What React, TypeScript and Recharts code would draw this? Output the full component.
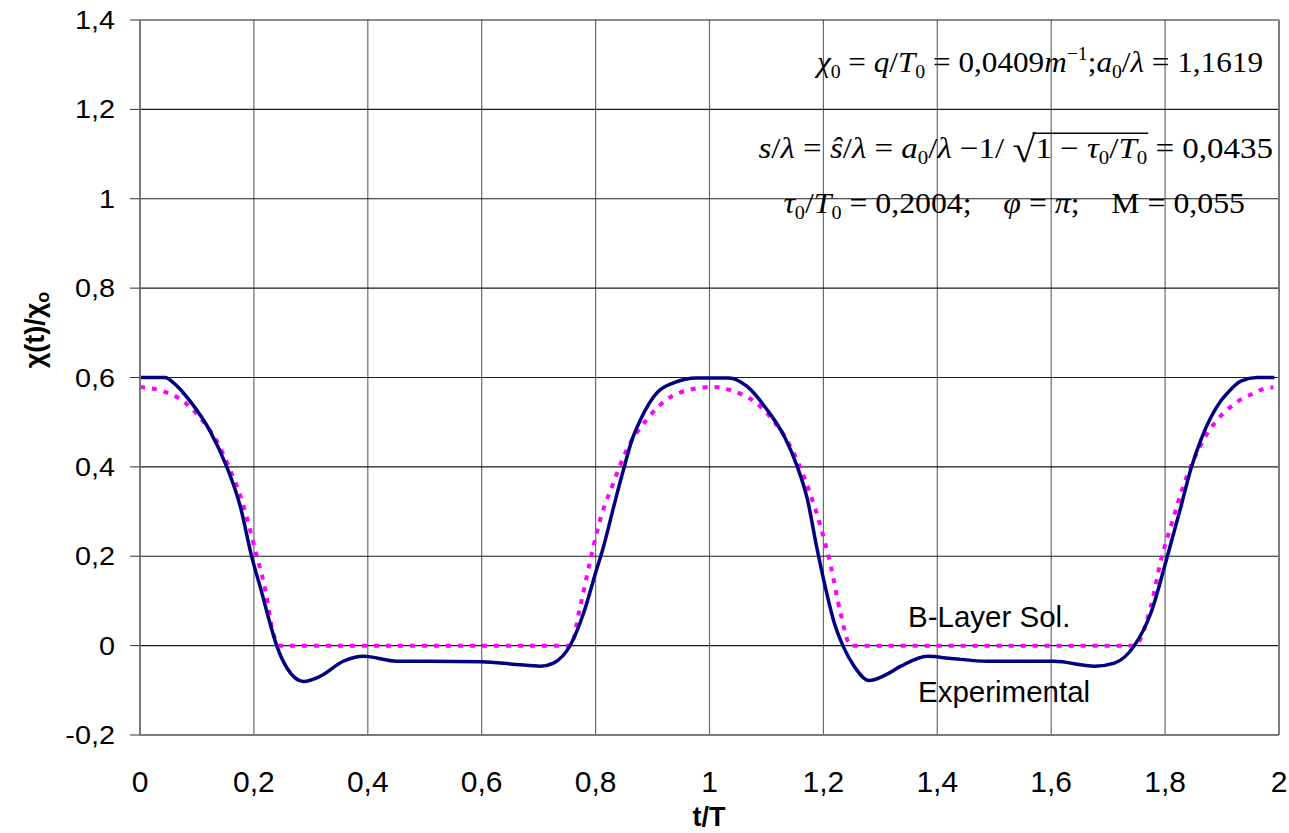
import React, { useLayoutEffect, useRef, useState } from "react";
import { LineChart, Line, XAxis, YAxis, CartesianGrid } from "recharts";

const tExp = [0, 0.044, 0.059, 0.088, 0.123, 0.152, 0.176, 0.196, 0.214, 0.228, 0.24, 0.258, 0.287, 0.316, 0.357, 0.393, 0.451, 0.51, 0.6, 0.66, 0.703, 0.726, 0.756, 0.779, 0.8, 0.814, 0.832, 0.849, 0.864, 0.879, 0.908, 0.937, 0.978, 1.034, 1.066, 1.101, 1.131, 1.154, 1.172, 1.188, 1.203, 1.219, 1.236, 1.254, 1.28, 1.31, 1.336, 1.383, 1.42, 1.488, 1.605, 1.676, 1.711, 1.746, 1.775, 1.804, 1.828, 1.845, 1.863, 1.898, 1.91, 1.933, 1.962, 1.992];
const yExp = [0.6, 0.6, 0.588, 0.547, 0.48, 0.401, 0.312, 0.2, 0.118, 0.051, 0.0, -0.05, -0.08, -0.069, -0.035, -0.024, -0.035, -0.035, -0.036, -0.042, -0.046, -0.039, 0.002, 0.073, 0.163, 0.222, 0.312, 0.394, 0.461, 0.506, 0.566, 0.588, 0.599, 0.599, 0.58, 0.528, 0.469, 0.401, 0.327, 0.222, 0.133, 0.051, -0.005, -0.046, -0.078, -0.065, -0.046, -0.024, -0.028, -0.035, -0.035, -0.046, -0.039, 0.0, 0.073, 0.2, 0.312, 0.394, 0.461, 0.548, 0.566, 0.592, 0.6, 0.6];

const tBL = [0, 0.041, 0.076, 0.108, 0.135, 0.158, 0.182, 0.202, 0.22, 0.234, 0.246, 0.756, 0.773, 0.791, 0.808, 0.829, 0.855, 0.89, 0.925, 0.967, 1.008, 1.043, 1.078, 1.113, 1.142, 1.172, 1.195, 1.213, 1.23, 1.248, 1.746, 1.775, 1.793, 1.81, 1.834, 1.86, 1.892, 1.913, 1.933, 1.951, 1.974, 1.99];
const yBL = [0.579, 0.569, 0.547, 0.506, 0.457, 0.394, 0.312, 0.215, 0.125, 0.028, 0.0, 0.0, 0.088, 0.193, 0.282, 0.357, 0.439, 0.506, 0.551, 0.573, 0.579, 0.569, 0.547, 0.502, 0.446, 0.357, 0.267, 0.178, 0.073, 0.0, 0.0, 0.088, 0.193, 0.267, 0.364, 0.443, 0.506, 0.532, 0.551, 0.562, 0.575, 0.578];

const xTicks = [0, 0.2, 0.4, 0.6, 0.8, 1, 1.2, 1.4, 1.6, 1.8, 2];
const yTicks = [-0.2, 0, 0.2, 0.4, 0.6, 0.8, 1, 1.2, 1.4];

const expData = tExp.map((t, i) => ({ t, y: yExp[i] }));
const blData = tBL.map((t, i) => ({ t, y: yBL[i] }));

const fmt = (v: number) => String(v).replace(".", ",");
const SANS = "'Liberation Sans', Arial, sans-serif";
const SERIF = "'Liberation Serif', 'Times New Roman', serif";

const It = ({ children }: { children: React.ReactNode }) => (
  <tspan fontStyle="italic">{children}</tspan>
);

const XTick = (props: any) => {
  const { x, y, payload } = props;
  return (
    <text x={x} y={y + 19} textAnchor="middle" fontFamily={SANS} fontSize={30} fill="#000">
      {fmt(payload.value)}
    </text>
  );
};

const YTick = (props: any) => {
  const { x, y, payload } = props;
  return (
    <g transform={`translate(${x},${y + 9}) scale(1.13,1)`}>
      <text x={0} y={0} textAnchor="end" fontFamily={SANS} fontSize={25.5} fill="#000">
        {fmt(payload.value)}
      </text>
    </g>
  );
};

export default function App() {
  const W = 1289;
  const H = 833;
  const sub = 19;
  const svgRef = useRef<SVGSVGElement>(null);
  const sqrtRef = useRef<SVGTSpanElement>(null);
  const startRef = useRef<SVGTSpanElement>(null);
  const endRef = useRef<SVGTSpanElement>(null);
  const [ov, setOv] = useState<{ x1: number; x2: number; y: number } | null>(null);

  useLayoutEffect(() => {
    if (!svgRef.current || !sqrtRef.current || !startRef.current || !endRef.current) return;
    const s = svgRef.current.getBoundingClientRect();
    const q = sqrtRef.current.getBoundingClientRect();
    const a = startRef.current.getBoundingClientRect();
    const b = endRef.current.getBoundingClientRect();
    setOv({ x1: q.right - s.left - 3, x2: b.right - s.left + 1, y: a.top - s.top + 2 });
  }, []);

  return (
    <div style={{ position: "absolute", left: 0, top: 0, width: W, height: H, overflow: "hidden", background: "#fff" }}>
      <LineChart
        width={W}
        height={H}
        margin={{ top: 20, right: 10, bottom: 0, left: 0 }}
      >
        <CartesianGrid horizontal={false} vertical={true} stroke="#6b6b6b" strokeWidth={1.2} />
        <CartesianGrid horizontal={true} vertical={false} stroke="#1a1a1a" strokeWidth={1.2} />
        <XAxis
          type="number"
          dataKey="t"
          domain={[0, 2]}
          ticks={xTicks}
          tickFormatter={fmt}
          allowDataOverflow
          height={98}
          tickLine={false}
          tickSize={8}
          tickMargin={30}
          axisLine={{ stroke: "#7a7a7a", strokeWidth: 2 }}
          tick={<XTick />}
        />
        <YAxis
          type="number"
          dataKey="y"
          domain={[-0.2, 1.4]}
          ticks={yTicks}
          tickFormatter={fmt}
          allowDataOverflow
          width={140}
          tickSize={10}
          tickMargin={15}
          tickLine={{ stroke: "#333", strokeWidth: 1 }}
          axisLine={{ stroke: "#7a7a7a", strokeWidth: 2 }}
          tick={<YTick />}
        />
        <Line
          data={blData}
          dataKey="y"
          type="monotone"
          stroke="#ff00ff"
          strokeWidth={4}
          strokeDasharray="5 7"
          dot={false}
          isAnimationActive={false}
        />
        <Line
          data={expData}
          dataKey="y"
          type="monotone"
          stroke="#000080"
          strokeWidth={3.5}
          dot={false}
          isAnimationActive={false}
        />
      </LineChart>
      <svg
        ref={svgRef}
        width={W}
        height={H}
        style={{ position: "absolute", left: 0, top: 0, pointerEvents: "none" }}
      >
        <line x1={1279} y1={20} x2={1279} y2={735} stroke="#7a7a7a" strokeWidth={2} />
        <text
          transform="translate(44,330) rotate(-90)"
          textAnchor="middle"
          fontFamily={SANS}
          fontWeight="bold"
          fontSize={27}
        >
          χ(t)/χ<tspan fontSize={18} dy={5}>o</tspan>
        </text>
        <text x={709} y={826} textAnchor="middle" fontFamily={SANS} fontWeight="bold" fontSize={27}>
          t/T
        </text>
        <text x={908} y={627} fontFamily={SANS} fontSize={29.5}>B-Layer Sol.</text>
        <text x={918} y={702} fontFamily={SANS} fontSize={29.5}>Experimental</text>

        <g transform="translate(1263,72) scale(1.04,1)">
          <text x={0} y={0} textAnchor="end" fontFamily={SERIF} fontSize={30} xmlSpace="preserve">
            <It>χ</It>
            <tspan fontSize={sub} dy={6}>0</tspan>
            <tspan dy={-6}>{" = "}</tspan>
            <It>q</It>
            <tspan>{"/"}</tspan>
            <It>T</It>
            <tspan fontSize={sub} dy={6}>0</tspan>
            <tspan dy={-6}>{" = 0,0409"}</tspan>
            <It>m</It>
            <tspan fontSize={sub} dy={-12}>−1</tspan>
            <tspan dy={12}>{";"}</tspan>
            <It>a</It>
            <tspan fontSize={sub} dy={6}>0</tspan>
            <tspan dy={-6}>{"/"}</tspan>
            <It>λ</It>
            <tspan>{" = 1,1619"}</tspan>
          </text>
        </g>

        <g transform="translate(1273,158) scale(1.1,1)">
          <text x={0} y={0} textAnchor="end" fontFamily={SERIF} fontSize={30} xmlSpace="preserve">
            <It>s</It>
            <tspan>{"/"}</tspan>
            <It>λ</It>
            <tspan>{" = "}</tspan>
            <It>ŝ</It>
            <tspan>{"/"}</tspan>
            <It>λ</It>
            <tspan>{" = "}</tspan>
            <It>a</It>
            <tspan fontSize={sub} dy={6}>0</tspan>
            <tspan dy={-6}>{"/"}</tspan>
            <It>λ</It>
            <tspan>{" −1/ "}</tspan>
            <tspan ref={sqrtRef} fontSize={38} dy={4}>√</tspan>
            <tspan ref={startRef} dy={-4}>{"1 − "}</tspan>
            <It>τ</It>
            <tspan fontSize={sub} dy={6}>0</tspan>
            <tspan dy={-6}>{"/"}</tspan>
            <It>T</It>
            <tspan ref={endRef} fontSize={sub} dy={6}>0</tspan>
            <tspan dy={-6}>{" = 0,0435"}</tspan>
          </text>
        </g>
        {ov && <line x1={ov.x1} x2={ov.x2} y1={ov.y} y2={ov.y} stroke="#000" strokeWidth={1.5} />}

        <g transform="translate(1245,213) scale(1.06,1)">
          <text x={0} y={0} textAnchor="end" fontFamily={SERIF} fontSize={30} xmlSpace="preserve">
            <It>τ</It>
            <tspan fontSize={sub} dy={6}>0</tspan>
            <tspan dy={-6}>{"/"}</tspan>
            <It>T</It>
            <tspan fontSize={sub} dy={6}>0</tspan>
            <tspan dy={-6}>{" = 0,2004;    "}</tspan>
            <It>φ</It>
            <tspan>{" = "}</tspan>
            <It>π</It>
            <tspan>{";    M = 0,055"}</tspan>
          </text>
        </g>
      </svg>
    </div>
  );
}
